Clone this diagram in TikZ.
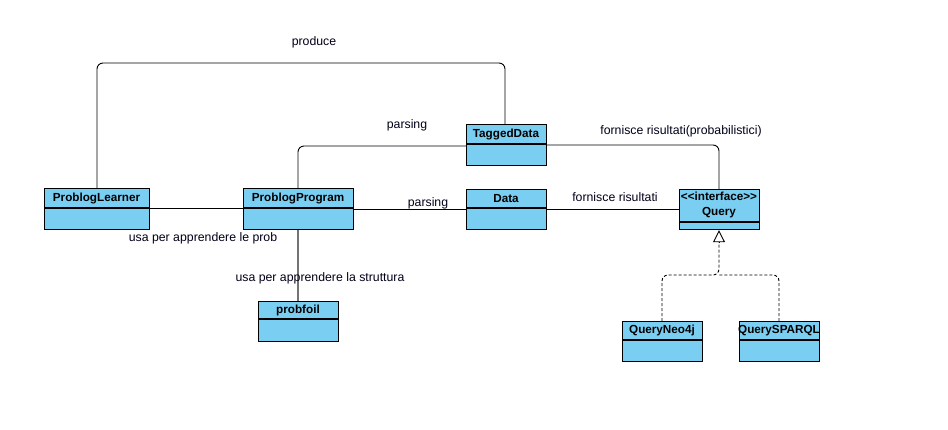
\documentclass[tikz,border=0pt]{standalone}
\usepackage{fontspec}
\setmainfont{Liberation Sans}
\usetikzlibrary{arrows.meta,calc}
\definecolor{classfill}{RGB}{122,206,242}
\tikzset{
  classbox/.style={draw=black, line width=1.2pt, fill=classfill, anchor=north west, inner sep=0pt},
  classtitle/.style={font=\fontsize{11.7}{14}\selectfont\bfseries, inner sep=0pt, align=center},
  assoc/.style={draw=black, line width=0.9pt, rounded corners=6pt},
  assocgray/.style={draw=black!55, line width=1.6pt},
  lbl/.style={font=\fontsize{12.3}{14}\selectfont, inner sep=0pt, text=black!90!blue},
  realize/.style={draw=black, line width=0.9pt, dash pattern=on 3pt off 2pt, rounded corners=6pt},
}
\newcommand{\umlclass}[7]{% name, x1, y1, x2, y2, ydiv, title
  \node[classbox, minimum width={(#4-#2)*1pt}, minimum height={(#5-#3)*1pt}] (#1) at (#2,#3) {};
  \draw[line width=1.2pt] (#2,#6) -- (#4,#6);
  \node[classtitle] (#1-t) at ({(#2+#4)/2},{(#3+#6)/2}) {#7};
}
\begin{document}
\begin{tikzpicture}[x=1pt,y=-1pt]
\useasboundingbox[fill=white] (0,0) rectangle (948,429);

% connector bend points
\coordinate (pA) at (97,63);
\coordinate (pB) at (505,63);
\coordinate (qA) at (298,146);
\coordinate (rA) at (719,145);
\coordinate (sA) at (662,275);
\coordinate (sM) at (719,275);
\coordinate (sB) at (779,275);
\coordinate (tip) at (719,230);
\coordinate (tbase) at (719,242);

\umlclass{learner}{44}{188}{149}{229}{208}{ProblogLearner}
\umlclass{program}{243}{188}{353}{229}{208}{ProblogProgram}
\umlclass{tagged}{466}{124}{546}{165}{144}{TaggedData}
\umlclass{data}{466}{189}{546}{229}{208}{Data}
\umlclass{neo}{622}{321}{702}{361}{340}{QueryNeo4j}
\umlclass{sparql}{739}{321}{819}{361}{340}{QuerySPARQL}
\umlclass{probfoil}{258}{301}{338}{341}{319}{probfoil}

% Query (interface)
\node[classbox, minimum width=80pt, minimum height=40pt] (query) at (679,189) {};
\draw[line width=1.2pt] (679,222) -- (759,222);
\node[classtitle, align=center, font=\fontsize{11.7}{15}\selectfont\bfseries] (query-t) at (719,205) {<{}<interface>{}>\\Query};

% associations
\draw[assoc] (learner.north -| pA) -- (pA) -- (pB) -- (tagged.north -| pB);
\draw[assoc] (program.north -| qA) -- (qA) -- (tagged.west |- qA);
\draw[assoc] (tagged.east |- rA) -- (rA) -- (query.north -| rA);
\draw[assoc] (learner.east |- 0,208) -- (program.west |- 0,208);
\draw[assoc] (program.east |- 0,209) -- (data.west |- 0,209);
\draw[assoc] (data.east |- 0,209) -- (query.west |- 0,209);
\draw[assocgray] (program.south -| 298,0) -- (probfoil.north -| 298,0);

% realization
\draw[realize] (neo.north -| sA) -- (sA) -- (sM) -- (tbase);
\draw[realize] (sparql.north -| sB) -- (sB) -- (sM);
\draw[line width=0.9pt, -{Triangle[open, width=12pt, length=12pt]}] (tbase) -- (query.south -| tip);

% labels
\node[lbl] (l1) at (314,42) {produce};
\node[lbl] (l2) at (407,125) {parsing};
\node[lbl] (l3) at (681,131) {fornisce risultati(probabilistici)};
\node[lbl] (l4) at (203,238) {usa per apprendere le prob};
\node[lbl] (l5) at (428,203) {parsing};
\node[lbl] (l6) at (615,197) {fornisce risultati};
\node[lbl] (l7) at (320,278) {usa per apprendere la struttura};
\end{tikzpicture}
\end{document}
